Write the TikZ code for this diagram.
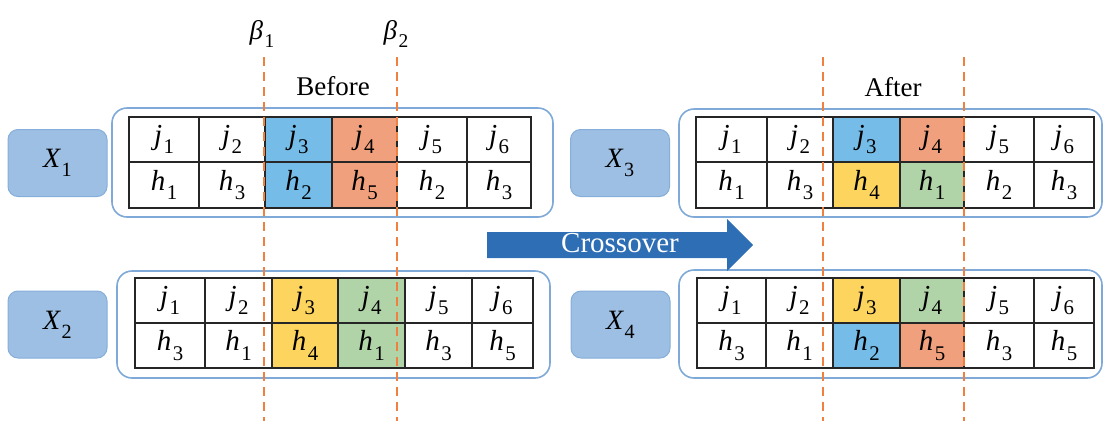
\documentclass[tikz,border=0pt]{standalone}
\usepackage{fontspec}
\usepackage{graphicx}
\setmainfont{Liberation Serif}
\definecolor{cblue}{HTML}{75BDE8}
\definecolor{corange}{HTML}{F0A07C}
\definecolor{cyellow}{HTML}{FCD45E}
\definecolor{cgreen}{HTML}{B0D4A8}
\definecolor{labfill}{HTML}{9DBFE3}
\definecolor{labdraw}{HTML}{86AEDA}
\definecolor{contdraw}{HTML}{7EA9D8}
\definecolor{arrowblue}{HTML}{2E6EB4}
\definecolor{dashor}{HTML}{F08040}
\newcommand{\mysub}[1]{\kern0.05em\raisebox{-0.32em}{\scalebox{0.72}{#1}}}
\newcommand{\vj}[1]{{\itshape j}\mysub{#1}}
\newcommand{\vh}[1]{{\itshape h}\mysub{#1}}
\newcommand{\gtable}[5]{%
  \foreach \Xa/\Xb/\Ua/\Ub/\Ca/\Cb [count=\i] in {#5} {%
    \node[cellst, fill=\Ca, minimum width={(\Xb-\Xa)*1pt}, minimum height={(#3-#2)*1pt}]
      (#1u\i) at ({(\Xa+\Xb)/2},{(#2+#3)/2}) {\Ua};
    \node[cellst, fill=\Cb, minimum width={(\Xb-\Xa)*1pt}, minimum height={(#4-#3)*1pt}]
      (#1d\i) at ({(\Xa+\Xb)/2},{(#3+#4)/2}) {\Ub};
  }}
\tikzset{
  cellst/.style={draw=black!85, line width=1.4pt, inner sep=0pt, font=\fontsize{29}{31}\selectfont, text=black},
  labbox/.style={draw=labdraw, fill=labfill, line width=1pt, rounded corners=10pt, inner sep=0pt,
    minimum width=99pt, minimum height=67pt, font=\fontsize{28}{30}\selectfont},
  contbox/.style={draw=contdraw, line width=1.6pt, rounded corners=15pt, inner sep=0pt},
  cutline/.style={draw=dashor, line width=1.4pt, dash pattern=on 9pt off 6pt},
  headtxt/.style={font=\fontsize{27}{29}\selectfont, inner sep=0pt},
}
\begin{document}
\begin{tikzpicture}[x=1pt,y=-1pt]
\useasboundingbox (0,0) rectangle (1105,421);
% containers
\node[contbox, minimum width=441pt, minimum height=109pt] (c1) at (332.5,162.5) {};
\node[contbox, minimum width=433pt, minimum height=107pt] (c2) at (333.5,324.5) {};
\node[contbox, minimum width=423pt, minimum height=108pt] (c3) at (890.5,163) {};
\node[contbox, minimum width=423pt, minimum height=108pt] (c4) at (890.5,324) {};
% label boxes
\node[labbox] (x1) at (57.5,163) {{\itshape X}\mysub{1}};
\node[labbox] (x2) at (57.5,324.5) {{\itshape X}\mysub{2}};
\node[labbox] (x3) at (620,163) {{\itshape X}\mysub{3}};
\node[labbox] (x4) at (620.5,324.5) {{\itshape X}\mysub{4}};
% tables
\gtable{a}{117}{162}{208}{129/199/\vj1/\vh1/white/white, 199/265/\vj2/\vh3/white/white,
  265/332/\vj3/\vh2/cblue/cblue, 332/397/\vj4/\vh5/corange/corange,
  397/467/\vj5/\vh2/white/white, 467/531/\vj6/\vh3/white/white}
\gtable{b}{278}{323}{368}{135/205/\vj1/\vh3/white/white, 205/272/\vj2/\vh1/white/white,
  272/338/\vj3/\vh4/cyellow/cyellow, 338/405/\vj4/\vh1/cgreen/cgreen,
  405/472/\vj5/\vh3/white/white, 472/533/\vj6/\vh5/white/white}
\gtable{c}{117}{162}{208}{696/767/\vj1/\vh1/white/white, 767/833/\vj2/\vh3/white/white,
  833/900/\vj3/\vh4/cblue/cyellow, 900/964/\vj4/\vh1/corange/cgreen,
  964/1034/\vj5/\vh2/white/white, 1034/1094/\vj6/\vh3/white/white}
\gtable{d}{278}{323}{368}{697/766/\vj1/\vh3/white/white, 766/833/\vj2/\vh1/white/white,
  833/900/\vj3/\vh2/cyellow/cblue, 900/964/\vj4/\vh5/cgreen/corange,
  964/1034/\vj5/\vh3/white/white, 1034/1094/\vj6/\vh5/white/white}
% headings
\node[headtxt] (before) at (333,86) {Before};
\node[headtxt] (after) at (893,87) {After};
\node[headtxt] (beta1) at (262,34) {{\itshape β}\mysub{1}};
\node[headtxt] (beta2) at (396,34) {{\itshape β}\mysub{2}};
% crossover arrow
\fill[arrowblue] (487,232) -- (727,232) -- (727,219) -- (753,245) -- (727,271) -- (727,258) -- (487,258) -- cycle;
\node[font=\fontsize{29}{31}\selectfont, text=white, inner sep=0pt] (cross) at (620,243) {Crossover};
% cut lines
\coordinate (l1t) at (264,57); \coordinate (l1b) at (264,421);
\coordinate (l2t) at (397,57); \coordinate (l2b) at (397,421);
\coordinate (l3t) at (823,57); \coordinate (l3b) at (823,421);
\coordinate (l4t) at (964,57); \coordinate (l4b) at (964,421);
\draw[cutline] (l1t) -- (l1b);
\draw[cutline] (l2t) -- (l2b);
\draw[cutline] (l3t) -- (l3b);
\draw[cutline] (l4t) -- (l4b);
\end{tikzpicture}
\end{document}
